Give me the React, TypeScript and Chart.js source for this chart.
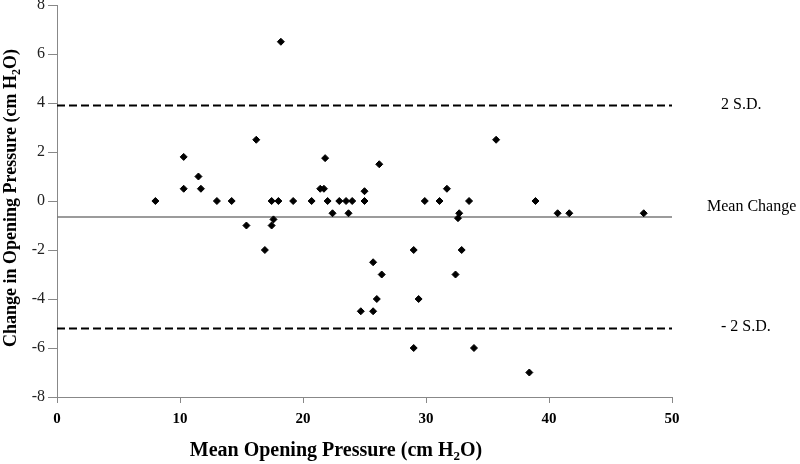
import React, { useEffect, useRef } from "react";
import { Chart, registerables } from "chart.js";

Chart.register(...registerables);

// Mean opening pressure (cm H2O) for each subject
const meanPressure = [
  8, 10.3, 10.3, 11.5, 11.7, 13, 14.2, 15.4, 16.2, 16.9,
  17.45, 17.45, 17.6, 18, 18.2, 19.2, 20.7, 21.4, 21.7, 21.8,
  22, 22.4, 22.95, 23.5, 24, 23.7, 25, 25, 26.2, 24.7,
  25.7, 25.7, 26.4, 26, 29, 29.4, 29, 29.9, 31.1, 31.7,
  32.7, 32.6, 32.4, 32.9, 33.5, 33.9, 35.7, 38.4, 38.9, 40.7,
  41.65, 47.7,
];
// Change in opening pressure (cm H2O) for each subject
const changePressure = [
  0, 1.8, 0.5, 1.0, 0.5, 0, 0, -1, 2.5, -2,
  0, -1, -0.75, 0, 6.5, 0, 0, 0.5, 0.5, 1.75,
  0, -0.5, 0, 0, 0, -0.5, 0.4, 0, 1.5, -4.5,
  -4.5, -2.5, -3, -4, -2, -4, -6, 0, 0, 0.5,
  -0.5, -0.7, -3, -2, 0, -6, 2.5, -7, 0, -0.5,
  -0.5, -0.5,
];

const xMin = 0;
const xMax = 50;
const xStep = 10;
const yMin = -8;
const yMax = 8;
const yStep = 2;

const meanChange = -0.65;
const upperLimit = 3.9;
const lowerLimit = -5.2;
const limitLabels = ["2 S.D.", "Mean Change", "- 2 S.D."];

const xTitleMain = "Mean Opening Pressure (cm H";
const yTitleMain = "Change in Opening Pressure (cm H";
const titleSub = "2";
const titleEnd = "O)";

const FONT = "'Times New Roman', 'Liberation Serif', serif";

function drawSubTitle(
  ctx: CanvasRenderingContext2D,
  cx: number,
  cy: number,
  size: number,
  main: string
) {
  const big = `bold ${size}px ${FONT}`;
  const small = `bold ${Math.round(size * 0.65)}px ${FONT}`;
  ctx.font = big;
  const w1 = ctx.measureText(main).width;
  const w3 = ctx.measureText(titleEnd).width;
  ctx.font = small;
  const w2 = ctx.measureText(titleSub).width;
  const total = w1 + w2 + w3;
  let x = cx - total / 2;
  ctx.textBaseline = "alphabetic";
  ctx.textAlign = "left";
  const base = cy + size * 0.35;
  ctx.font = big;
  ctx.fillText(main, x, base);
  x += w1;
  ctx.font = small;
  ctx.fillText(titleSub, x, base + size * 0.22);
  x += w2;
  ctx.font = big;
  ctx.fillText(titleEnd, x, base);
}

const annotatePlugin = {
  id: "annotate",
  afterDraw(chart: any) {
    const ctx: CanvasRenderingContext2D = chart.ctx;
    const ys = chart.scales.y;
    ctx.save();
    ctx.fillStyle = "#000";
    // right labels
    ctx.font = `16px ${FONT}`;
    ctx.textAlign = "left";
    ctx.textBaseline = "middle";
    ctx.fillText(limitLabels[0], 721, ys.getPixelForValue(upperLimit) - 1);
    ctx.fillText(limitLabels[1], 707, ys.getPixelForValue(meanChange) - 10);
    ctx.fillText(limitLabels[2], 721, ys.getPixelForValue(lowerLimit) - 2);
    // x title
    drawSubTitle(ctx, 336, 449, 20, xTitleMain);
    // y title
    ctx.save();
    ctx.translate(10, 198);
    ctx.rotate(-Math.PI / 2);
    drawSubTitle(ctx, 0, 0, 18, yTitleMain);
    ctx.restore();
    ctx.restore();
  },
};

export default function App() {
  const ref = useRef<HTMLCanvasElement | null>(null);

  useEffect(() => {
    if (!ref.current) return;
    const points = meanPressure.map((x, i) => ({ x, y: changePressure[i] }));
    const hline = (v: number) => [
      { x: xMin, y: v },
      { x: xMax, y: v },
    ];
    const chart = new Chart(ref.current, {
      type: "scatter",
      data: {
        datasets: [
          {
            label: "Change",
            data: points,
            pointStyle: "rectRot",
            pointRadius: 3.5,
            pointBackgroundColor: "#000",
            pointBorderColor: "#000",
            pointBorderWidth: 1,
            showLine: false,
            order: 0,
          },
          {
            label: "upper",
            data: hline(upperLimit),
            showLine: true,
            borderColor: "#000",
            borderWidth: 2,
            borderDash: [8, 4],
            pointRadius: 0,
            order: 1,
          },
          {
            label: "mean",
            data: hline(meanChange),
            showLine: true,
            borderColor: "#7a7a7a",
            borderWidth: 1.5,
            pointRadius: 0,
            order: 1,
          },
          {
            label: "lower",
            data: hline(lowerLimit),
            showLine: true,
            borderColor: "#000",
            borderWidth: 2,
            borderDash: [8, 4],
            pointRadius: 0,
            order: 1,
          },
        ] as any,
      },
      options: {
        responsive: false,
        animation: false,
        layout: { padding: { top: 5, right: 128, left: 0, bottom: 0 } },
        plugins: {
          legend: { display: false },
          tooltip: { enabled: false },
          title: { display: false },
        },
        scales: {
          x: {
            type: "linear",
            min: xMin,
            max: xMax,
            ticks: {
              stepSize: xStep,
              color: "#000",
              font: { family: FONT, size: 15, weight: "bold" },
              padding: 7,
            },
            grid: {
              drawOnChartArea: false,
              tickLength: 6,
              color: "#888",
            },
            border: { color: "#888", width: 1 },
            afterFit: (s: any) => {
              s.height = 67;
              s.paddingLeft = 0;
              s.paddingRight = 0;
            },
          },
          y: {
            type: "linear",
            min: yMin,
            max: yMax,
            ticks: {
              stepSize: yStep,
              color: "#222",
              font: { family: FONT, size: 16 },
              padding: 3,
            },
            grid: {
              drawOnChartArea: false,
              tickLength: 9,
              color: "#888",
            },
            border: { color: "#888", width: 1 },
            afterFit: (s: any) => {
              s.width = 57;
              s.paddingTop = 0;
              s.paddingBottom = 0;
            },
          },
        },
      } as any,
      plugins: [annotatePlugin],
    });
    return () => chart.destroy();
  }, []);

  return (
    <div
      style={{
        position: "fixed",
        left: 0,
        top: 0,
        width: 800,
        height: 464,
        background: "#fff",
      }}
    >
      <canvas ref={ref} width={800} height={464} />
    </div>
  );
}
